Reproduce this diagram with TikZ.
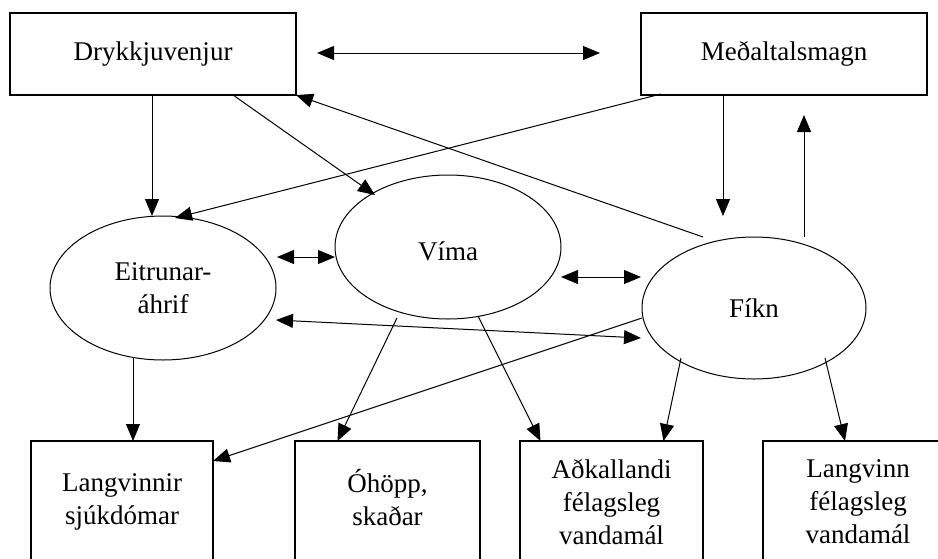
\documentclass[tikz,border=0pt]{standalone}
\usepackage{fontspec}
\setmainfont{Liberation Serif}
\usetikzlibrary{arrows.meta,shapes.geometric}
\begin{document}
\begin{tikzpicture}[x=1pt,y=-1pt,
  txt/.style={font=\fontsize{27}{33}\selectfont, align=center},
  box/.style={txt, draw, line width=2pt, rectangle, inner sep=0pt, outer sep=0pt},
  oval/.style={txt, draw, line width=1pt, ellipse, inner sep=0pt, outer sep=0pt,
    minimum width=226pt, minimum height=144pt},
  tip/.tip={Triangle[length=17pt,width=14pt]},
  arr/.style={line width=1pt, -tip},
  darr/.style={line width=1pt, tip-tip}]
\useasboundingbox (0,0) rectangle (938,558);
\fill[white] (0,0) rectangle (938,558);
\clip (0,0) rectangle (938,558);
% top boxes
\node[box, minimum width=286pt, minimum height=82pt] (drk) at (153,54) {Drykkjuvenjur};
\node[box, minimum width=286pt, minimum height=82pt] (med) at (784,54) {Meðaltalsmagn};
% ellipses
\node[oval] (eit) at (163,288) {Eitrunar-\\áhrif};
\node[oval] (vim) at (448,247) {\raisebox{-4pt}[\height][\depth]{Víma}};
\node[oval, minimum width=224pt, minimum height=142pt] (fik) at (754,308) {Fíkn};
% bottom boxes
\node[box, minimum width=182pt, minimum height=122pt] (lang) at (122,502) {Langvinnir\\sjúkdómar};
\node[box, minimum width=185pt, minimum height=122pt] (oh) at (387.5,502) {\smash{Ó}höpp,\\skaðar\vphantom{j}};
\node[box, minimum width=183pt, minimum height=122pt] (adk) at (611.5,502) {Aðkallandi\\félagsleg\\vandamál};
\node[box, minimum width=190pt, minimum height=122pt] (lgv) at (858,502) {Langvinn\\félagsleg\\vandamál};
% connectors
\draw[darr] ([shift={(164,-1)}]drk.center) -- ([shift={(-184,-1)}]med.center);
\draw[arr] ([shift={(-1,41)}]drk.center) -- ([shift={(-11,-72)}]eit.center);
\draw[arr] ([shift={(80,41)}]drk.center) -- ([shift={(-73,-52)}]vim.center);
\draw[arr] ([shift={(-123,40)}]med.center) -- ([shift={(12,-70)}]eit.center);
\draw[arr] ([shift={(-51,-71)}]fik.center) -- (drk.south east);
\draw[arr] ([shift={(-61,41)}]med.center) -- ([shift={(-31,-92)}]fik.center);
\draw[arr] ([shift={(50,-71)}]fik.center) -- ([shift={(20,61)}]med.center);
\draw[arr] ([shift={(-30,70)}]eit.center) -- ([shift={(11,0)}]lang.north);
\draw[arr] ([shift={(-51,71)}]vim.center) -- ([shift={(-50,0)}]oh.north);
\draw[arr] ([shift={(-112,10)}]fik.center) -- ([shift={(0,20)}]lang.north east);
\draw[arr] ([shift={(30,69)}]vim.center) -- ([shift={(-71,0)}]adk.north);
\draw[arr] ([shift={(-73,50)}]fik.center) -- ([shift={(52,0)}]adk.north);
\draw[arr] ([shift={(71,50)}]fik.center) -- ([shift={(-13,0)}]lgv.north);
\draw[darr] ([shift={(114,-31)}]eit.center) -- ([shift={(-113,10)}]vim.center);
\draw[darr] ([shift={(113,30)}]vim.center) -- ([shift={(-113,-31)}]fik.center);
\draw[darr] ([shift={(113,32)}]eit.center) -- ([shift={(-113,30)}]fik.center);
\end{tikzpicture}
\end{document}
